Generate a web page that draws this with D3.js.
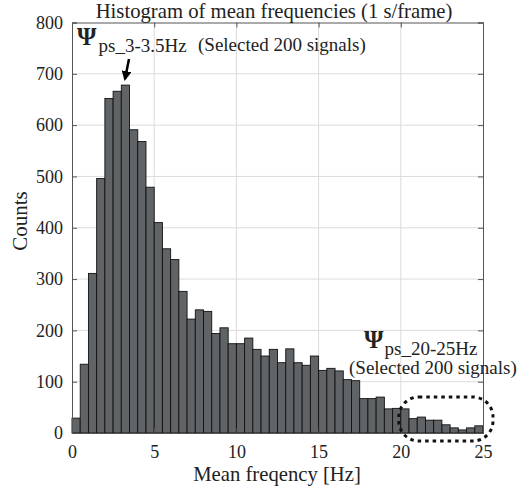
<!DOCTYPE html>
<html>
<head>
<meta charset="utf-8">
<script src="https://cdn.jsdelivr.net/npm/d3@7"></script>
<style>
  body { margin: 0; background: #fff; }
  text { font-family: "Liberation Serif", "Times New Roman", serif; fill: #222; }
</style>
</head>
<body>
<div id="chart"></div>
<script>
// bin edges every 0.5 Hz, counts
const binStarts = d3.range(0, 25, 0.5);
const counts = [
  29, 134, 311, 496, 652, 666, 678, 591, 568, 479,
  410, 359, 338, 276, 222, 240, 237, 194, 205, 174,
  174, 185, 163, 150, 163, 137, 164, 137, 132, 150,
  122, 126, 121, 104, 102, 67, 67, 70, 47, 48,
  47, 28, 31, 25, 25, 16, 10, 6, 10, 14
];
const xTicks = [0, 5, 10, 15, 20, 25];
const yTicks = [0, 100, 200, 300, 400, 500, 600, 700, 800];

const margin = { top: 22.5, right: 47, bottom: 58, left: 72 };
const W = 530, H = 491;
const width = W - margin.left - margin.right;
const height = H - margin.top - margin.bottom;

const svg = d3.select("#chart").append("svg")
    .attr("width", W)
    .attr("height", H);

const g = svg.append("g")
    .attr("transform", `translate(${margin.left},${margin.top})`);

const x = d3.scaleLinear().domain([0, 25]).range([0, width]);
const y = d3.scaleLinear().domain([0, 800]).range([height, 0]);

// grid
g.selectAll(".xgrid")
    .data(xTicks.slice(1, -1))
    .join("line")
    .attr("x1", d => x(d)).attr("x2", d => x(d))
    .attr("y1", 0).attr("y2", height)
    .attr("stroke", "#dcdcdc").attr("stroke-width", 1);

g.selectAll(".ygrid")
    .data(yTicks.slice(1, -1))
    .join("line")
    .attr("x1", 0).attr("x2", width)
    .attr("y1", d => y(d)).attr("y2", d => y(d))
    .attr("stroke", "#dcdcdc").attr("stroke-width", 1);

// bars
g.selectAll(".bar")
    .data(counts)
    .join("rect")
    .attr("x", (d, i) => x(binStarts[i]))
    .attr("width", x(0.5) - x(0))
    .attr("y", d => y(d))
    .attr("height", d => y(0) - y(d))
    .attr("fill", "#606467")
    .attr("stroke", "#111")
    .attr("stroke-width", 0.9);

// axes
const axB = g.append("g")
    .attr("transform", `translate(0,${height})`)
    .call(d3.axisBottom(x).tickValues(xTicks).tickSize(-5).tickPadding(12));
const axL = g.append("g")
    .call(d3.axisLeft(y).tickValues(yTicks).tickSize(-5).tickPadding(9));
const axT = g.append("g")
    .call(d3.axisTop(x).tickValues(xTicks).tickSize(-5).tickFormat(""));
const axR = g.append("g")
    .attr("transform", `translate(${width},0)`)
    .call(d3.axisRight(y).tickValues(yTicks).tickSize(-5).tickFormat(""));

[axB, axL, axT, axR].forEach(a => {
  a.selectAll(".domain").attr("stroke", "#555");
  a.selectAll(".tick line").attr("stroke", "#555");
  a.selectAll(".tick text")
      .style("font-family", "Liberation Serif, Times New Roman, serif")
      .style("font-size", "18px")
      .attr("fill", "#222");
});

// title and labels
svg.append("text")
    .attr("x", 274)
    .attr("y", 18)
    .attr("text-anchor", "middle")
    .style("font-size", "20.7px")
    .text("Histogram of mean frequencies (1 s/frame)");

svg.append("text")
    .attr("x", 277)
    .attr("y", 481)
    .attr("text-anchor", "middle")
    .style("font-size", "20.7px")
    .text("Mean freqency [Hz]");

svg.append("text")
    .attr("transform", `translate(27,221) rotate(-90)`)
    .attr("text-anchor", "middle")
    .style("font-size", "21px")
    .text("Counts");

// annotation 1
const a1 = svg.append("text").attr("x", 77).attr("y", 45);
a1.append("tspan").style("font-size", "25px").style("font-weight", "bold").text("Ψ");
a1.append("tspan").attr("dy", 7).attr("dx", 2).style("font-size", "19px").text("ps_3-3.5Hz");
svg.append("text")
    .attr("x", 198).attr("y", 51)
    .style("font-size", "19px")
    .text("(Selected 200 signals)");

svg.append("defs").append("marker")
    .attr("id", "ah")
    .attr("viewBox", "0 0 10 10")
    .attr("refX", 8).attr("refY", 5)
    .attr("markerWidth", 4).attr("markerHeight", 4)
    .attr("orient", "auto")
    .append("path").attr("d", "M0,0 L10,5 L0,10 z").attr("fill", "#000");

svg.append("line")
    .attr("x1", 129).attr("y1", 59)
    .attr("x2", 125).attr("y2", 79)
    .attr("stroke", "#000").attr("stroke-width", 2.5)
    .attr("marker-end", "url(#ah)");

// annotation 2
const a2 = svg.append("text").attr("x", 364).attr("y", 348);
a2.append("tspan").style("font-size", "25px").style("font-weight", "bold").text("Ψ");
a2.append("tspan").attr("dy", 7).attr("dx", 1).style("font-size", "19px").text("ps_20-25Hz");
svg.append("text")
    .attr("x", 349).attr("y", 374)
    .style("font-size", "19px")
    .text("(Selected 200 signals)");

// dotted outline round the 20-25 Hz bins
svg.append("rect")
    .attr("x", margin.left + x(20) - 2).attr("y", 397)
    .attr("width", x(25) - x(20) + 12).attr("height", 44)
    .attr("rx", 20).attr("ry", 20)
    .attr("fill", "none")
    .attr("stroke", "#111")
    .attr("stroke-width", 3)
    .attr("stroke-dasharray", "3.5,4");
</script>
</body>
</html>
